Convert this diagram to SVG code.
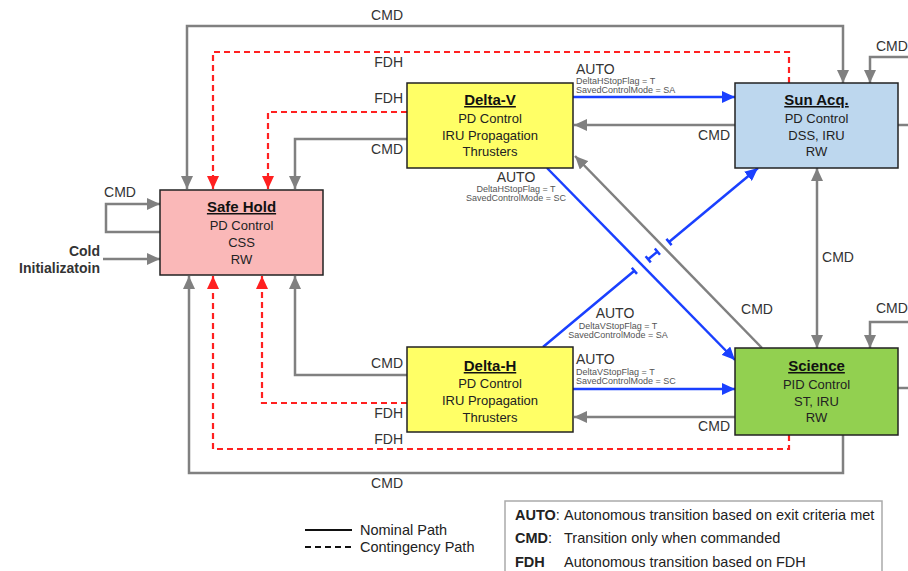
<svg xmlns="http://www.w3.org/2000/svg" width="908" height="571" viewBox="0 0 908 571">
<style>
.node rect{stroke:#222;stroke-width:1.5}
.title{font-family:"Liberation Sans",Arial,sans-serif;font-size:15px;font-weight:bold;text-decoration:underline;fill:#111;text-anchor:middle}
.body{font-family:"Liberation Sans",Arial,sans-serif;font-size:13px;fill:#222;text-anchor:middle}
.lbl{font-family:"Liberation Sans",Arial,sans-serif;font-size:14px;fill:#333}
.sm{font-family:"Liberation Sans",Arial,sans-serif;font-size:9px;fill:#555}
.g{fill:none;stroke:#808080;stroke-width:2.5}
.r{fill:none;stroke:#ff2020;stroke-width:2.2;stroke-dasharray:6,4}
.b{fill:none;stroke:#1a40ff;stroke-width:2.5}
.leg{font-family:"Liberation Sans",Arial,sans-serif;font-size:14.5px;fill:#222}
</style>
<defs>
<marker id="ag" markerUnits="userSpaceOnUse" markerWidth="13" markerHeight="12" refX="13" refY="6" orient="auto-start-reverse"><path d="M0,0 L13,6 L0,12 z" fill="#808080"/></marker>
<marker id="ar" markerUnits="userSpaceOnUse" markerWidth="13" markerHeight="12" refX="13" refY="6" orient="auto"><path d="M0,0 L13,6 L0,12 z" fill="#ff2020"/></marker>
<marker id="ab" markerUnits="userSpaceOnUse" markerWidth="13" markerHeight="12" refX="13" refY="6" orient="auto"><path d="M0,0 L13,6 L0,12 z" fill="#1a40ff"/></marker>
</defs>
<rect width="908" height="571" fill="#fff"/>

<g id="connectors">
<!-- gray CMD -->
<path class="g" d="M187,189 V26 H843 V83" marker-start="url(#ag)" marker-end="url(#ag)"/>
<path class="g" d="M735,125 H574" marker-end="url(#ag)"/>
<path class="g" d="M407,139 H295 V189" marker-end="url(#ag)"/>
<path class="g" d="M160,232 H106 V204 H160" marker-end="url(#ag)"/>
<path class="g" d="M103,259 H160" marker-end="url(#ag)"/>
<path class="g" d="M407,375 H295 V276" marker-end="url(#ag)"/>
<path class="g" d="M843,435 V473 H189 V276" marker-end="url(#ag)"/>
<path class="g" d="M735,417 H574" marker-end="url(#ag)"/>
<path class="g" d="M762,348 L575,156" marker-end="url(#ag)"/>
<path class="g" d="M817,168 V348" marker-start="url(#ag)" marker-end="url(#ag)"/>
<path class="g" d="M908,57 H870 V83" marker-end="url(#ag)"/>
<path class="g" d="M898,125 H908"/>
<path class="g" d="M908,322 H870 V348" marker-end="url(#ag)"/>
<path class="g" d="M898,388 H908"/>
<!-- red FDH -->
<path class="r" d="M789,83 V52 H213 V189" marker-end="url(#ar)"/>
<path class="r" d="M407,112 H268 V189" marker-end="url(#ar)"/>
<path class="r" d="M407,403 H262 V276" marker-end="url(#ar)"/>
<path class="r" d="M789,435 V449 H213 V276" marker-end="url(#ar)"/>
<!-- blue AUTO -->
<path class="b" d="M573,97 H735" marker-end="url(#ab)"/>
<path class="b" d="M547,168 L735,360" marker-end="url(#ab)"/>
<path class="b" d="M573,389 H735" marker-end="url(#ab)"/>
<path class="b" d="M543,347 L634.4,270.8 M631.8,267.7 L637,273.9 M648.2,259.3 L657.4,251.6 M645.6,256.2 L650.8,262.4 M654.8,248.5 L660,254.7 M666.4,238.9 L671.6,245.1"/>
<path class="b" d="M669,242 L758,168" marker-end="url(#ab)"/>
<!-- labels -->
<text class="lbl" x="403" y="20" text-anchor="end">CMD</text>
<text class="lbl" x="403" y="67" text-anchor="end">FDH</text>
<text class="lbl" x="403" y="103" text-anchor="end">FDH</text>
<text class="lbl" x="403" y="154" text-anchor="end">CMD</text>
<text class="lbl" x="403" y="368" text-anchor="end">CMD</text>
<text class="lbl" x="403" y="418" text-anchor="end">FDH</text>
<text class="lbl" x="403" y="444" text-anchor="end">FDH</text>
<text class="lbl" x="403" y="488" text-anchor="end">CMD</text>
<text class="lbl" x="120" y="197" text-anchor="middle">CMD</text>
<text class="lbl" x="100" y="256" text-anchor="end" font-weight="bold" font-size="15">Cold</text>
<text class="lbl" x="100" y="273" text-anchor="end" font-weight="bold" font-size="15">Initializatoin</text>
<text class="lbl" x="730" y="140" text-anchor="end">CMD</text>
<text class="lbl" x="730" y="431" text-anchor="end">CMD</text>
<text class="lbl" x="757" y="314" text-anchor="middle">CMD</text>
<text class="lbl" x="838" y="262" text-anchor="middle">CMD</text>
<text class="lbl" x="876" y="51">CMD</text>
<text class="lbl" x="876" y="313">CMD</text>
<text class="lbl" x="576" y="74">AUTO</text>
<text class="sm" x="576" y="84">DeltaHStopFlag = T</text>
<text class="sm" x="576" y="93">SavedControlMode = SA</text>
<text class="lbl" x="516" y="182" text-anchor="middle">AUTO</text>
<text class="sm" x="516" y="192" text-anchor="middle">DeltaHStopFlag = T</text>
<text class="sm" x="516" y="201" text-anchor="middle">SavedControlMode = SC</text>
<text class="lbl" x="615" y="318" text-anchor="middle">AUTO</text>
<text class="sm" x="618" y="329" text-anchor="middle">DeltaVStopFlag = T</text>
<text class="sm" x="618" y="338" text-anchor="middle">SavedControlMode = SA</text>
<text class="lbl" x="576" y="364">AUTO</text>
<text class="sm" x="576" y="375">DeltaVStopFlag = T</text>
<text class="sm" x="576" y="384">SavedControlMode = SC</text>
</g>

<g id="safe-hold" class="node">
<rect x="160" y="190" width="163" height="85" fill="#fab8b8"/>
<text class="title" x="241.5" y="212">Safe Hold</text>
<text class="body" x="241.5" y="230">PD Control</text>
<text class="body" x="241.5" y="247">CSS</text>
<text class="body" x="241.5" y="264">RW</text>
</g>
<g id="delta-v" class="node">
<rect x="407" y="83" width="166" height="85" fill="#ffff66"/>
<text class="title" x="490" y="105">Delta-V</text>
<text class="body" x="490" y="123">PD Control</text>
<text class="body" x="490" y="140">IRU Propagation</text>
<text class="body" x="490" y="156">Thrusters</text>
</g>
<g id="sun-acq" class="node">
<rect x="735" y="83" width="163" height="85" fill="#bdd7ee"/>
<text class="title" x="816.5" y="105">Sun Acq.</text>
<text class="body" x="816.5" y="123">PD Control</text>
<text class="body" x="816.5" y="140">DSS, IRU</text>
<text class="body" x="816.5" y="156">RW</text>
</g>
<g id="delta-h" class="node">
<rect x="407" y="347" width="166" height="85" fill="#ffff66"/>
<text class="title" x="490" y="371">Delta-H</text>
<text class="body" x="490" y="388">PD Control</text>
<text class="body" x="490" y="405">IRU Propagation</text>
<text class="body" x="490" y="422">Thrusters</text>
</g>
<g id="science" class="node">
<rect x="735" y="348" width="163" height="87" fill="#92d050"/>
<text class="title" x="816.5" y="371">Science</text>
<text class="body" x="816.5" y="389">PID Control</text>
<text class="body" x="816.5" y="406">ST, IRU</text>
<text class="body" x="816.5" y="422">RW</text>
</g>

<g id="legend">
<line x1="305" y1="530" x2="352" y2="530" stroke="#111" stroke-width="2"/>
<line x1="305" y1="547" x2="352" y2="547" stroke="#111" stroke-width="2" stroke-dasharray="6,4"/>
<text class="leg" x="360" y="535" font-size="14">Nominal Path</text>
<text class="leg" x="360" y="552" font-size="14">Contingency Path</text>
<rect x="505" y="501" width="377" height="90" fill="none" stroke="#aaa" stroke-width="1.5"/>
<text class="leg" x="515" y="520"><tspan font-weight="bold">AUTO</tspan>:</text>
<text class="leg" x="564" y="520">Autonomous transition based on exit criteria met</text>
<text class="leg" x="515" y="543"><tspan font-weight="bold">CMD</tspan>:</text>
<text class="leg" x="564" y="543">Transition only when commanded</text>
<text class="leg" x="515" y="567" font-weight="bold">FDH</text>
<text class="leg" x="564" y="567">Autonomous transition based on FDH</text>
</g>
</svg>
